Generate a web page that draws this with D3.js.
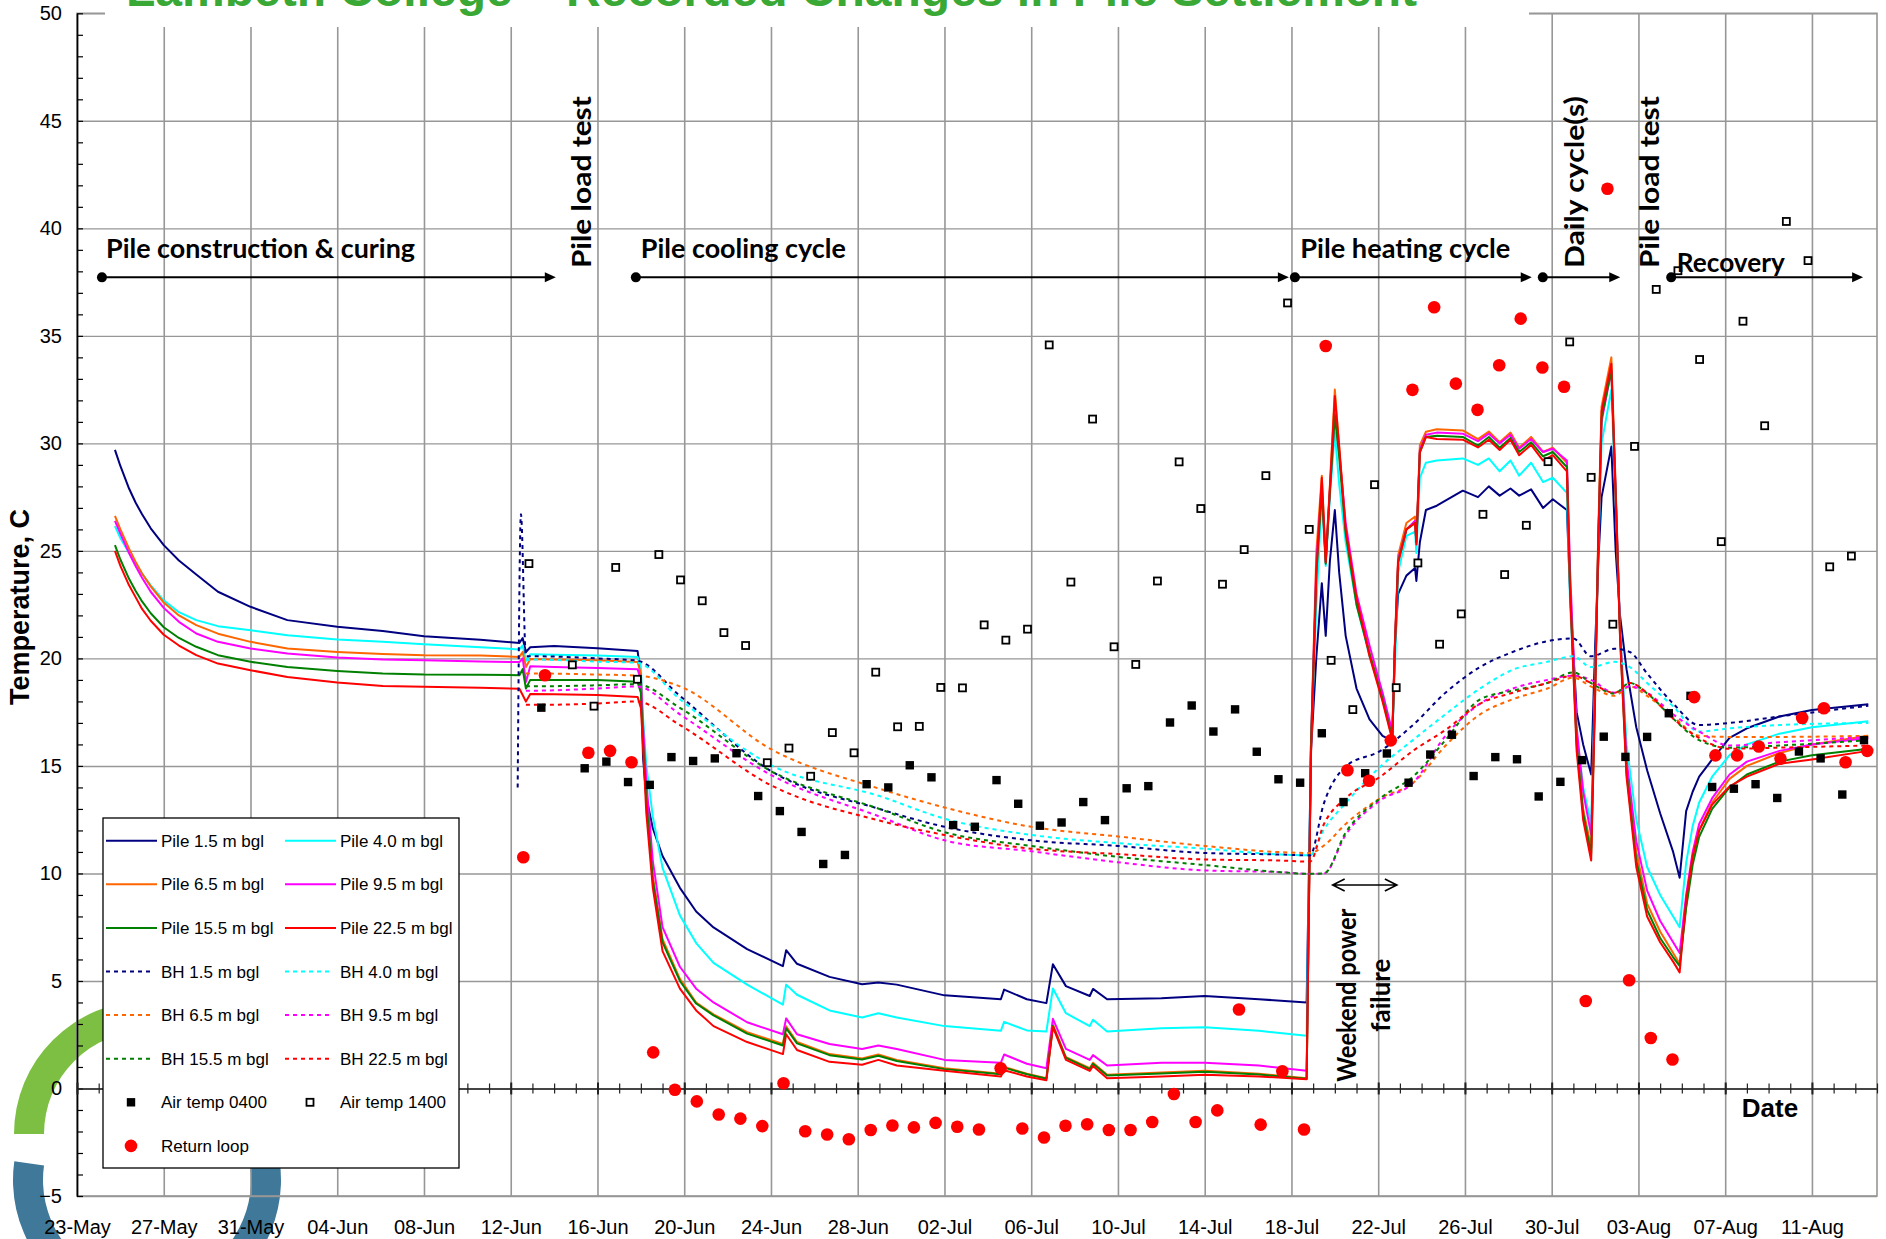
<!DOCTYPE html>
<html>
<head>
<meta charset="utf-8">
<script src="https://cdn.jsdelivr.net/npm/d3@7"></script>
<style>
  body { margin: 0; background: #fff; }
  svg { display: block; font-family: "Liberation Sans", Arial, sans-serif; }
</style>
</head>
<body>
<svg id="chart" width="1886" height="1239"></svg>
<script>
// all x values are days counted from 23-May 00:00
const pileDays = [
  1.75, 2.0, 2.4, 2.7, 3.0, 3.4, 4.0, 4.7, 5.5, 6.5, 8.0, 9.7, 12.0, 14.1, 16.0,
  18.6, 20.4, 20.55, 20.7, 20.9, 22.0, 24.0, 25.85, 26.0, 26.1,
  26.25, 26.55, 27.0, 27.8, 28.55, 29.35, 30.9, 32.55, 32.7, 33.2,
  34.7, 36.2, 36.95, 37.8, 40.0, 42.6, 42.75, 43.8, 44.7, 45.0,
  45.6, 46.7, 46.85, 47.5, 50.0, 52.0, 54.5, 56.7, 56.9, 57.15,
  57.4, 57.58, 57.77, 58.0, 58.2, 58.5, 59.0, 59.6, 60.2, 60.65,
  60.77, 60.92, 61.3, 61.7, 61.76, 61.92, 62.2, 62.7, 63.9, 64.6,
  65.1, 65.6, 66.1, 66.5, 67.05, 67.6, 68.05, 68.7, 68.85, 69.15,
  69.45, 69.82, 70.0, 70.15, 70.3, 70.75, 70.95, 71.15, 71.45, 71.9,
  72.4, 73.0, 73.6, 73.9, 74.2, 74.5, 74.8, 75.4, 76.2, 77.0,
  78.5, 80.0, 82.6
];
const pile15 = [
  29.7, 28.95, 27.9, 27.25, 26.7, 26.05, 25.27, 24.55, 23.9, 23.1, 22.4, 21.78, 21.47, 21.28, 21.03,
  20.87, 20.72, 20.95, 20.3, 20.52, 20.58, 20.47, 20.34, 19.2, 15.4,
  13.57, 12.1, 10.81, 9.33, 8.23, 7.49, 6.48, 5.69, 6.43, 5.8,
  5.19, 4.85, 4.93, 4.83, 4.33, 4.15, 4.6, 4.15, 3.97, 5.78,
  4.76, 4.3, 4.63, 4.15, 4.2, 4.3, 4.15, 4.0, 15.7, 20.1,
  23.5, 21.05, 24.5, 26.9, 24.0, 21.05, 18.6, 17.16, 16.4, 16.16,
  20.6, 23.0, 23.85, 24.2, 23.6, 25.4, 26.9, 27.1, 27.8, 27.5,
  28.0, 27.57, 27.9, 27.57, 27.86, 27.0, 27.4, 26.9, 23.0, 17.5,
  16.0, 14.6, 20.5, 24.5, 27.5, 29.85, 25.0, 22.0, 19.5, 16.8,
  14.8, 12.8, 11.0, 9.8, 12.9, 13.8, 14.5, 15.3, 16.3, 16.75,
  17.3, 17.6, 17.87
];
const pile40 = [
  26.15, 25.6, 24.9, 24.4, 23.95, 23.4, 22.7, 22.15, 21.78, 21.5, 21.31, 21.08, 20.88, 20.77, 20.66,
  20.52, 20.42, 20.6, 19.9, 20.19, 20.17, 20.14, 20.07, 19.6, 17.25,
  15.04, 12.65, 10.26, 8.05, 6.76, 5.84, 4.83, 3.9, 4.83, 4.36,
  3.63, 3.3, 3.5, 3.3, 2.9, 2.68, 3.1, 2.7, 2.65, 4.65,
  3.5, 2.9, 3.2, 2.65, 2.8, 2.85, 2.68, 2.45, 16.0, 22.5,
  27.6, 24.3, 27.5, 30.5, 28.1, 25.4, 22.5, 20.1, 18.4, 16.4,
  19.5, 24.0, 25.7, 25.9, 24.9, 28.4, 29.1, 29.2, 29.3, 29.0,
  29.3, 28.7, 29.2, 28.5, 29.1, 28.2, 28.4, 27.7, 22.5, 16.5,
  14.0, 12.3, 19.0, 25.0, 30.0, 32.5, 27.5, 21.5, 16.0, 12.5,
  10.3, 9.0, 8.0, 7.5, 10.5, 12.2, 13.3, 14.5, 15.5, 16.0,
  16.5, 16.8, 17.08
];
const pile65 = [
  26.63, 26.0, 25.1, 24.5, 23.95, 23.35, 22.6, 22.0, 21.55, 21.15, 20.77, 20.46, 20.3, 20.2, 20.15,
  20.14, 20.07, 20.3, 19.6, 19.97, 19.95, 19.92, 19.83, 19.3, 16.33,
  13.57, 9.89, 6.94, 5.1, 4.0, 3.45, 2.62, 2.07, 2.89, 2.16,
  1.6, 1.4, 1.58, 1.33, 0.94, 0.69, 1.0, 0.69, 0.48, 2.98,
  1.46, 0.94, 1.2, 0.64, 0.74, 0.82, 0.69, 0.48, 16.0, 25.0,
  28.5, 24.6, 28.0, 32.5, 29.8, 26.0, 22.8, 20.3, 18.2, 16.4,
  20.8, 24.8, 26.3, 26.6, 25.6, 29.9, 30.54, 30.66, 30.6, 30.2,
  30.55, 30.05, 30.5, 29.8, 30.3, 29.6, 29.8, 29.1, 23.5, 16.2,
  13.0, 11.2, 18.5, 26.0, 31.7, 34.0, 28.0, 21.3, 15.0, 11.0,
  8.6, 7.3, 6.3, 5.8, 8.5, 10.7, 12.0, 13.3, 14.4, 15.0,
  15.6, 16.0, 16.4
];
const pile95 = [
  26.4, 25.8, 24.9, 24.3, 23.75, 23.1, 22.35, 21.7, 21.16, 20.77, 20.46, 20.23, 20.04, 19.95, 19.92,
  19.86, 19.83, 20.0, 18.9, 19.64, 19.6, 19.55, 19.5, 19.0, 16.88,
  14.3, 10.6, 7.5, 5.66, 4.64, 4.0, 3.08, 2.52, 3.26, 2.52,
  2.07, 1.84, 2.0, 1.84, 1.33, 1.2, 1.58, 1.15, 0.94, 3.24,
  1.84, 1.33, 1.55, 1.07, 1.2, 1.2, 1.07, 0.82, 16.0, 24.5,
  28.0, 24.5, 27.8, 31.4, 29.6, 26.3, 23.0, 20.6, 18.4, 16.6,
  20.6, 24.6, 26.0, 26.4, 25.4, 29.7, 30.4, 30.5, 30.45, 30.1,
  30.45, 30.0, 30.4, 29.75, 30.2, 29.6, 29.75, 29.2, 24.0, 16.8,
  13.8, 11.8, 18.5, 25.5, 31.0, 33.4, 27.8, 21.3, 15.3, 11.5,
  9.2, 7.8, 6.8, 6.3, 9.0, 11.0, 12.3, 13.5, 14.6, 15.2,
  15.7, 16.0, 16.3
];
const pile155 = [
  25.27, 24.6, 23.7, 23.15, 22.65, 22.1, 21.45, 20.95, 20.54, 20.15, 19.84, 19.6, 19.42, 19.3, 19.25,
  19.24, 19.22, 19.5, 18.6, 19.0, 19.0, 19.0, 18.91, 18.4, 16.2,
  13.4, 9.7, 6.8, 5.0, 3.95, 3.4, 2.55, 2.0, 2.8, 2.1,
  1.55, 1.35, 1.52, 1.28, 0.9, 0.66, 0.97, 0.66, 0.45, 2.9,
  1.42, 0.9, 1.15, 0.6, 0.7, 0.78, 0.65, 0.45, 16.0, 24.0,
  27.8, 24.4, 27.7, 31.3, 29.4, 25.8, 22.5, 20.2, 18.1, 16.3,
  20.5, 24.5, 26.0, 26.3, 25.4, 29.6, 30.3, 30.35, 30.3, 29.9,
  30.3, 29.8, 30.25, 29.6, 30.05, 29.4, 29.6, 28.9, 23.2, 16.0,
  12.8, 10.9, 18.3, 25.6, 31.2, 33.4, 27.6, 21.1, 14.7, 10.6,
  8.3, 7.0, 6.1, 5.7, 8.4, 10.4, 11.7, 13.0, 14.0, 14.6,
  15.2, 15.5, 15.8
];
const pile225 = [
  25.0, 24.3, 23.4, 22.85, 22.3, 21.75, 21.1, 20.6, 20.15, 19.76, 19.45, 19.14, 18.88, 18.72, 18.68,
  18.63, 18.59, 18.3, 17.99, 18.35, 18.33, 18.3, 18.21, 17.7, 15.96,
  12.83, 9.34, 6.39, 4.64, 3.63, 2.9, 2.16, 1.6, 2.52, 1.79,
  1.24, 1.1, 1.33, 1.07, 0.82, 0.56, 0.85, 0.56, 0.38, 2.86,
  1.33, 0.82, 1.05, 0.48, 0.56, 0.64, 0.56, 0.43, 15.5, 24.0,
  28.4, 24.46, 27.9, 32.2, 29.9, 26.0, 22.8, 20.1, 18.0, 16.2,
  20.57, 24.46, 26.0, 26.3, 25.3, 29.57, 30.3, 30.2, 30.17, 29.81,
  30.17, 29.69, 30.17, 29.45, 29.93, 29.2, 29.45, 28.7, 23.0, 15.7,
  12.5, 10.6, 18.1, 25.4, 31.5, 33.7, 27.5, 21.0, 14.5, 10.3,
  8.0, 6.8, 5.9, 5.4, 8.8, 10.8, 12.0, 13.2, 14.05, 14.5,
  15.1, 15.3, 15.7
];

const bhDays = [
  20.32, 20.47, 20.7, 21.0, 24.0, 25.8, 27.8, 32.0, 37.0, 40.0,
  44.0, 48.0, 52.0, 55.5, 56.85, 57.5, 58.5, 60.1, 61.6, 63.1,
  64.7, 66.2, 67.8, 69.0, 69.8, 70.9, 71.6, 72.4, 73.6, 74.8,
  76.2, 78.5, 82.6
];
const bh15 = [
  14.0, 26.7, 20.1, 20.1, 20.0, 19.9, 18.26, 14.76, 13.0, 12.17,
  11.54, 11.28, 10.95, 10.88, 10.84, 13.27, 14.97, 15.7, 16.9, 18.4,
  19.6, 20.3, 20.8, 20.93, 20.1, 20.45, 20.3, 19.3, 17.9, 16.9,
  17.0, 17.3, 17.8
];
const bh40 = [
  null, null, 19.9, 19.95, 19.85, 19.8, 18.1, 15.04, 13.6, 12.55,
  11.79, 11.41, 11.15, 10.88, 10.84, 12.05, 13.27, 14.97, 16.2, 17.4,
  18.6, 19.47, 19.84, 20.1, 19.6, 19.84, 19.6, 18.86, 17.77, 16.6,
  16.75, 16.9, 17.0
];
const bh65 = [
  null, null, 19.3, 19.3, 19.25, 19.2, 18.7, 15.78, 13.94, 13.07,
  12.17, 11.72, 11.28, 10.99, 10.95, 11.3, 12.3, 13.5, 14.2, 15.94,
  17.4, 18.1, 18.6, 19.1, 18.7, 18.26, 18.7, 18.26, 17.3, 16.4,
  16.35, 16.35, 16.4
];
const bh95 = [
  null, null, 18.5, 18.5, 18.6, 18.7, 17.4, 14.58, 12.65, 11.54,
  11.03, 10.52, 10.14, 10.06, 9.98, 10.0, 11.8, 13.4, 14.2, 16.4,
  17.9, 18.6, 19.0, 19.2, 19.0, 18.4, 18.7, 18.4, 17.4, 16.6,
  15.95, 16.1, 16.35
];
const bh155 = [
  null, null, 18.7, 18.7, 18.75, 18.8, 17.7, 14.76, 13.0, 11.92,
  11.28, 10.77, 10.39, 10.06, 9.98, 10.0, 11.9, 13.5, 14.5, 16.2,
  18.1, 18.5, 18.86, 19.35, 18.86, 18.37, 18.86, 18.37, 17.2, 16.2,
  15.85, 15.95, 16.2
];
const bh225 = [
  null, null, 17.84, 17.84, 17.9, 18.0, 16.9, 14.1, 12.46, 11.79,
  11.15, 10.9, 10.65, 10.6, 10.55, 12.3, 13.5, 14.5, 15.7, 16.67,
  17.9, 18.4, 18.86, 19.2, 18.86, 18.4, 18.86, 18.4, 17.2, 16.3,
  15.8, 15.85, 15.95
];

// [day, temperature]
const air0400 = [
  [21.41, 17.71], [23.41, 14.89], [24.41, 15.2], [25.41, 14.25], [26.41, 14.12],
  [27.41, 15.41], [28.41, 15.23], [29.41, 15.35], [30.41, 15.59], [31.41, 13.6],
  [32.41, 12.9], [33.41, 11.93], [34.41, 10.44], [35.41, 10.86], [36.41, 14.15],
  [37.41, 14.0], [38.4, 15.03], [39.4, 14.47], [40.4, 12.25], [41.4, 12.17],
  [42.4, 14.34], [43.4, 13.24], [44.4, 12.22], [45.4, 12.37], [46.4, 13.32],
  [47.4, 12.48], [48.4, 13.96], [49.4, 14.06], [50.4, 17.02], [51.4, 17.81],
  [52.4, 16.6], [53.4, 17.63], [54.4, 15.66], [55.4, 14.38], [56.4, 14.22],
  [57.4, 16.52], [58.4, 13.32], [59.4, 14.66], [60.4, 15.58], [61.4, 14.22],
  [62.4, 15.53], [63.4, 16.45], [64.4, 14.53], [65.4, 15.41], [66.4, 15.31],
  [67.4, 13.58], [68.4, 14.26], [69.4, 15.27], [70.4, 16.36], [71.4, 15.42],
  [72.4, 16.35], [73.4, 17.45], [74.4, 18.26], [75.4, 14.02], [76.4, 13.94],
  [77.4, 14.15], [78.4, 13.51], [79.4, 15.67], [80.4, 15.35], [81.4, 13.67],
  [82.4, 16.2]
];
const air1400 = [
  [20.84, 24.41], [22.84, 19.7], [23.84, 17.78], [24.84, 24.23], [25.84, 19.03],
  [26.83, 24.83], [27.83, 23.65], [28.83, 22.68], [29.83, 21.2], [30.83, 20.6],
  [31.83, 15.15], [32.83, 15.83], [33.83, 14.52], [34.83, 16.55], [35.83, 15.61],
  [36.83, 19.36], [37.84, 16.82], [38.84, 16.84], [39.83, 18.65], [40.83, 18.63],
  [41.83, 21.56], [42.83, 20.85], [43.83, 21.36], [44.83, 34.58], [45.83, 23.55],
  [46.83, 31.13], [47.82, 20.54], [48.82, 19.72], [49.82, 23.6], [50.82, 29.14],
  [51.82, 26.97], [52.82, 23.45], [53.82, 25.06], [54.82, 28.5], [55.82, 36.53],
  [56.82, 26.0], [57.83, 19.91], [58.83, 17.62], [59.83, 28.08], [60.83, 18.64],
  [61.83, 24.44], [62.83, 20.66], [63.83, 22.07], [64.83, 26.7], [65.83, 23.9],
  [66.83, 26.19], [67.83, 29.15], [68.83, 34.72], [69.82, 28.42], [70.82, 21.59],
  [71.82, 29.86], [72.82, 37.16], [73.82, 38.03], [74.82, 33.9], [75.82, 25.43],
  [76.82, 35.68], [77.82, 30.82], [78.82, 40.32], [79.82, 38.5], [80.82, 24.26],
  [81.82, 24.76]
];
const returnLoop = [
  [20.58, 10.75], [21.58, 19.22], [23.58, 15.61], [24.58, 15.7], [25.57, 15.17],
  [26.57, 1.68], [27.57, -0.06], [28.58, -0.6], [29.59, -1.21], [30.59, -1.4],
  [31.6, -1.75], [32.58, 0.24], [33.58, -1.99], [34.59, -2.14], [35.59, -2.36],
  [36.6, -1.93], [37.6, -1.72], [38.59, -1.81], [39.59, -1.6], [40.59, -1.78],
  [41.59, -1.91], [42.59, 0.94], [43.59, -1.86], [44.59, -2.28], [45.58, -1.73],
  [46.58, -1.66], [47.58, -1.93], [48.58, -1.93], [49.58, -1.56], [50.58, -0.26],
  [51.58, -1.56], [52.58, -1.02], [53.58, 3.67], [54.58, -1.68], [55.58, 0.8],
  [56.58, -1.91], [57.58, 34.53], [58.58, 14.8], [59.58, 14.31], [60.58, 16.19],
  [61.58, 32.49], [62.58, 36.33], [63.58, 32.78], [64.58, 31.56], [65.58, 33.63],
  [66.57, 35.8], [67.57, 33.53], [68.57, 32.63], [69.57, 4.07], [70.57, 41.84],
  [71.57, 5.03], [72.57, 2.35], [73.57, 1.35], [74.57, 18.2], [75.55, 15.49],
  [76.55, 15.49], [77.55, 15.9], [78.55, 15.34], [79.55, 17.23], [80.55, 17.68],
  [81.55, 15.17], [82.55, 15.7]
];

const yTicks = [-5, 0, 5, 10, 15, 20, 25, 30, 35, 40, 45, 50];

// phase arrows: [start day, end day, label]
const phaseArrows = [
  [1.15, 22.08, "Pile construction & curing"],
  [25.77, 55.88, "Pile cooling cycle"],
  [56.16, 67.08, "Pile heating cycle"],
  [67.59, 71.16, ""],
  [73.51, 82.36, "Recovery"]
];
// vertical labels: [day, label]
const phaseMarks = [[23.7, "Pile load test"], [69.5, "Daily cycle(s)"], [72.94, "Pile load test"]];

const svg = d3.select("#chart");
const t0 = new Date(2008, 4, 23);
const toDate = d => new Date(t0.getTime() + d * 864e5);

const plotL = 77, plotR = 1877, plotT = 13.3, plotB = 1196;
const x = d3.scaleTime().domain([t0, toDate(83)]).range([plotL, plotR]);
const y = d3.scaleLinear().domain([-5, 50]).range([plotB, plotT]);

// college logo behind the plot
const logo = svg.append("g");
logo.append("path")
  .attr("transform", "translate(147,1134)")
  .attr("d", d3.arc().innerRadius(103).outerRadius(133).startAngle(-Math.PI / 2).endAngle(Math.PI / 2)())
  .attr("fill", "#7dbf43");
logo.append("path")
  .attr("transform", "translate(147,1180)")
  .attr("d", d3.arc().innerRadius(104).outerRadius(134).startAngle(Math.PI / 6).endAngle(278 * Math.PI / 180)())
  .attr("fill", "#3f7898");

// grid
const majorDays = d3.timeDay.range(t0, toDate(83), 4);
const minorDays = d3.timeDay.range(t0, toDate(83.01));

svg.append("g")
  .attr("transform", `translate(0,${plotB})`)
  .call(d3.axisBottom(x).tickValues(majorDays).tickSize(-(plotB - plotT)).tickFormat(""))
  .call(g => g.select(".domain").remove())
  .call(g => g.selectAll(".tick line").attr("stroke", "#979797").attr("stroke-width", 1.6));

svg.append("g")
  .attr("transform", `translate(${plotL},0)`)
  .call(d3.axisLeft(y).tickValues(yTicks).tickSize(-(plotR - plotL)).tickFormat(""))
  .call(g => g.select(".domain").remove())
  .call(g => g.selectAll(".tick line").attr("stroke", "#979797").attr("stroke-width", 1.4));

svg.append("rect")
  .attr("x", plotL).attr("y", plotT).attr("width", plotR - plotL).attr("height", plotB - plotT)
  .attr("fill", "none").attr("stroke", "#979797").attr("stroke-width", 1.6);

// title box covers the top of the grid; the title itself runs off the top edge as in the source
svg.append("rect").attr("x", 105).attr("y", 0).attr("width", 1424).attr("height", 27).attr("fill", "#fff");
svg.append("text")
  .attr("x", 126).attr("y", 6)
  .attr("font-size", 48).attr("font-weight", "bold").attr("fill", "#3aa835")
  .text("Lambeth College \u2013 Recorded Changes in Pile Settlement");

// y axis
svg.append("g")
  .attr("transform", `translate(${plotL},0)`)
  .call(d3.axisRight(y).tickValues(d3.range(-5, 51, 1)).tickSize(6).tickFormat(""))
  .call(g => g.select(".domain").remove())
  .call(g => g.selectAll(".tick line").attr("stroke", "#000").attr("stroke-width", 1.2));
svg.append("g")
  .attr("transform", `translate(${plotL},0)`)
  .call(d3.axisLeft(y).tickValues(yTicks).tickSize(0).tickPadding(15).tickSizeOuter(0))
  .call(g => g.select(".domain").attr("stroke", "#000").attr("stroke-width", 1.6))
  .call(g => g.selectAll("text").attr("font-size", 20).attr("font-family", "'Liberation Sans', Arial, sans-serif").attr("fill", "#000"));

// x axis at zero
const xAxisG = svg.append("g").attr("transform", `translate(0,${y(0)})`);
xAxisG.append("g")
  .call(d3.axisBottom(x).tickValues(minorDays).tickSize(5).tickSizeOuter(0).tickFormat(""))
  .call(g => g.select(".domain").attr("stroke", "#222").attr("stroke-width", 1.6))
  .call(g => g.selectAll(".tick line").attr("y1", -5).attr("stroke", "#222").attr("stroke-width", 1.2));
xAxisG.append("g")
  .call(d3.axisBottom(x).tickValues(majorDays).tickSize(6).tickSizeOuter(0).tickFormat(""))
  .call(g => g.select(".domain").remove())
  .call(g => g.selectAll(".tick line").attr("y1", -6).attr("stroke", "#222").attr("stroke-width", 2));

svg.append("g")
  .attr("transform", `translate(0,${plotB})`)
  .call(d3.axisBottom(x).tickValues(majorDays).tickSize(0).tickPadding(24).tickFormat(d3.timeFormat("%d-%b")))
  .call(g => g.select(".domain").remove())
  .call(g => g.selectAll("text").attr("font-size", 20).attr("font-family", "'Liberation Sans', Arial, sans-serif").attr("fill", "#000"));

svg.append("text")
  .attr("transform", "translate(29,607) rotate(-90)")
  .attr("text-anchor", "middle").attr("font-size", 27).attr("font-weight", "bold")
  .text("Temperature, C");
svg.append("text")
  .attr("x", 1770).attr("y", 1117).attr("text-anchor", "middle")
  .attr("font-size", 26).attr("font-weight", "bold")
  .text("Date");

// series
const pileSeries = [
  { name: "Pile 1.5 m bgl", color: "#000080", values: pile15 },
  { name: "Pile 4.0 m bgl", color: "#00ffff", values: pile40 },
  { name: "Pile 6.5 m bgl", color: "#ff6600", values: pile65 },
  { name: "Pile 9.5 m bgl", color: "#ff00ff", values: pile95 },
  { name: "Pile 15.5 m bgl", color: "#008000", values: pile155 },
  { name: "Pile 22.5 m bgl", color: "#ff0000", values: pile225 }
];
const bhSeries = [
  { name: "BH 1.5 m bgl", color: "#000080", values: bh15 },
  { name: "BH 4.0 m bgl", color: "#00ffff", values: bh40 },
  { name: "BH 6.5 m bgl", color: "#ff6600", values: bh65 },
  { name: "BH 9.5 m bgl", color: "#ff00ff", values: bh95 },
  { name: "BH 15.5 m bgl", color: "#008000", values: bh155 },
  { name: "BH 22.5 m bgl", color: "#ff0000", values: bh225 }
];

function drawLine(days, s, dashed) {
  const line = d3.line()
    .defined(v => v != null)
    .x((v, i) => x(toDate(days[i])))
    .y(v => y(v))
    .curve(dashed ? d3.curveMonotoneX : d3.curveLinear);
  svg.append("path")
    .datum(s.values)
    .attr("d", line)
    .attr("fill", "none")
    .attr("stroke", s.color)
    .attr("stroke-width", 2)
    .attr("stroke-linejoin", "round")
    .attr("stroke-dasharray", dashed ? "4,4" : null);
}
pileSeries.forEach(s => drawLine(pileDays, s, false));
bhSeries.forEach(s => drawLine(bhDays, s, true));

// markers
svg.append("g").selectAll("rect")
  .data(air0400).enter().append("rect")
  .attr("x", d => x(toDate(d[0])) - 4.2).attr("y", d => y(d[1]) - 4.2)
  .attr("width", 8.4).attr("height", 8.4).attr("fill", "#000");
svg.append("g").selectAll("rect")
  .data(air1400).enter().append("rect")
  .attr("x", d => x(toDate(d[0])) - 3.5).attr("y", d => y(d[1]) - 3.5)
  .attr("width", 7).attr("height", 7).attr("fill", "#fff").attr("stroke", "#000").attr("stroke-width", 1.8);
svg.append("g").selectAll("circle")
  .data(returnLoop).enter().append("circle")
  .attr("cx", d => x(toDate(d[0]))).attr("cy", d => y(d[1]))
  .attr("r", 6.3).attr("fill", "#ff0000");

// annotations
const annoFont = "'Comic Sans MS', Lato, sans-serif";
const arrowT = 37.72;
const anno = svg.append("g").attr("font-family", annoFont).attr("font-weight", "bold").attr("font-size", 26);
phaseArrows.forEach(a => {
  const x0 = x(toDate(a[0])), x1 = x(toDate(a[1])), yy = y(arrowT);
  anno.append("line").attr("x1", x0).attr("x2", x1 - 8).attr("y1", yy).attr("y2", yy)
    .attr("stroke", "#000").attr("stroke-width", 2);
  anno.append("circle").attr("cx", x0).attr("cy", yy).attr("r", 5).attr("fill", "#000");
  anno.append("path").attr("d", `M${x1},${yy} L${x1 - 11},${yy - 5} L${x1 - 11},${yy + 5} Z`).attr("fill", "#000");
});
function annoText(sel, len) {
  return sel.attr("textLength", len).attr("lengthAdjust", "spacingAndGlyphs");
}
annoText(anno.append("text").attr("x", x(toDate(1.34))).attr("y", y(38.62)).text(phaseArrows[0][2]), 309);
annoText(anno.append("text").attr("x", x(toDate(26.0))).attr("y", y(38.62)).text(phaseArrows[1][2]), 205);
annoText(anno.append("text").attr("x", x(toDate(56.41))).attr("y", y(38.62)).text(phaseArrows[2][2]), 210);
annoText(anno.append("text").attr("x", x(toDate(73.77))).attr("y", y(37.97)).text(phaseArrows[4][2]), 108);
phaseMarks.forEach(m => {
  annoText(anno.append("text")
    .attr("transform", `translate(${x(toDate(m[0]))},${y(38.15)}) rotate(-90)`)
    .text(m[1]), 172);
});

// weekend power failure
const wx0 = x(toDate(57.9)), wx1 = x(toDate(60.86)), wy = y(9.46);
anno.append("path")
  .attr("d", `M${wx0},${wy} L${wx1},${wy} M${wx0 + 12},${wy - 6} L${wx0},${wy} L${wx0 + 12},${wy + 6} M${wx1 - 12},${wy - 6} L${wx1},${wy} L${wx1 - 12},${wy + 6}`)
  .attr("fill", "none").attr("stroke", "#000").attr("stroke-width", 1.6);
annoText(anno.append("text")
  .attr("transform", `translate(${x(toDate(58.97))},${y(4.34)}) rotate(-90)`)
  .attr("text-anchor", "middle").text("Weekend power"), 173);
annoText(anno.append("text")
  .attr("transform", `translate(${x(toDate(60.53))},${y(4.34)}) rotate(-90)`)
  .attr("text-anchor", "middle").text("failure"), 73);

// legend
const legend = svg.append("g").attr("transform", "translate(103,818)");
legend.append("rect").attr("width", 356).attr("height", 350)
  .attr("fill", "#fff").attr("stroke", "#000").attr("stroke-width", 1.3);
const rowY = i => 22.7 + i * 43.6;
const legendLines = [];
pileSeries.forEach((s, i) => legendLines.push({ s, dashed: false, row: Math.floor(i / 2), col: i % 2 }));
bhSeries.forEach((s, i) => legendLines.push({ s, dashed: true, row: 3 + Math.floor(i / 2), col: i % 2 }));
legendLines.forEach(l => {
  const cx = l.col === 0 ? 3 : 182;
  legend.append("line")
    .attr("x1", cx).attr("x2", cx + (l.dashed ? 46 : 51))
    .attr("y1", rowY(l.row)).attr("y2", rowY(l.row))
    .attr("stroke", l.s.color).attr("stroke-width", 2)
    .attr("stroke-dasharray", l.dashed ? "4,4" : null);
  legend.append("text")
    .attr("x", cx + 55).attr("y", rowY(l.row) + 6)
    .attr("font-size", 17).text(l.s.name);
});
legend.append("rect").attr("x", 28 - 4.2).attr("y", rowY(6) - 4.2).attr("width", 8.4).attr("height", 8.4).attr("fill", "#000");
legend.append("text").attr("x", 58).attr("y", rowY(6) + 6).attr("font-size", 17).text("Air temp 0400");
legend.append("rect").attr("x", 207 - 3.5).attr("y", rowY(6) - 3.5).attr("width", 7).attr("height", 7)
  .attr("fill", "#fff").attr("stroke", "#000").attr("stroke-width", 1.8);
legend.append("text").attr("x", 237).attr("y", rowY(6) + 6).attr("font-size", 17).text("Air temp 1400");
legend.append("circle").attr("cx", 28).attr("cy", rowY(7)).attr("r", 6.3).attr("fill", "#ff0000");
legend.append("text").attr("x", 58).attr("y", rowY(7) + 6).attr("font-size", 17).text("Return loop");
</script>
</body>
</html>
